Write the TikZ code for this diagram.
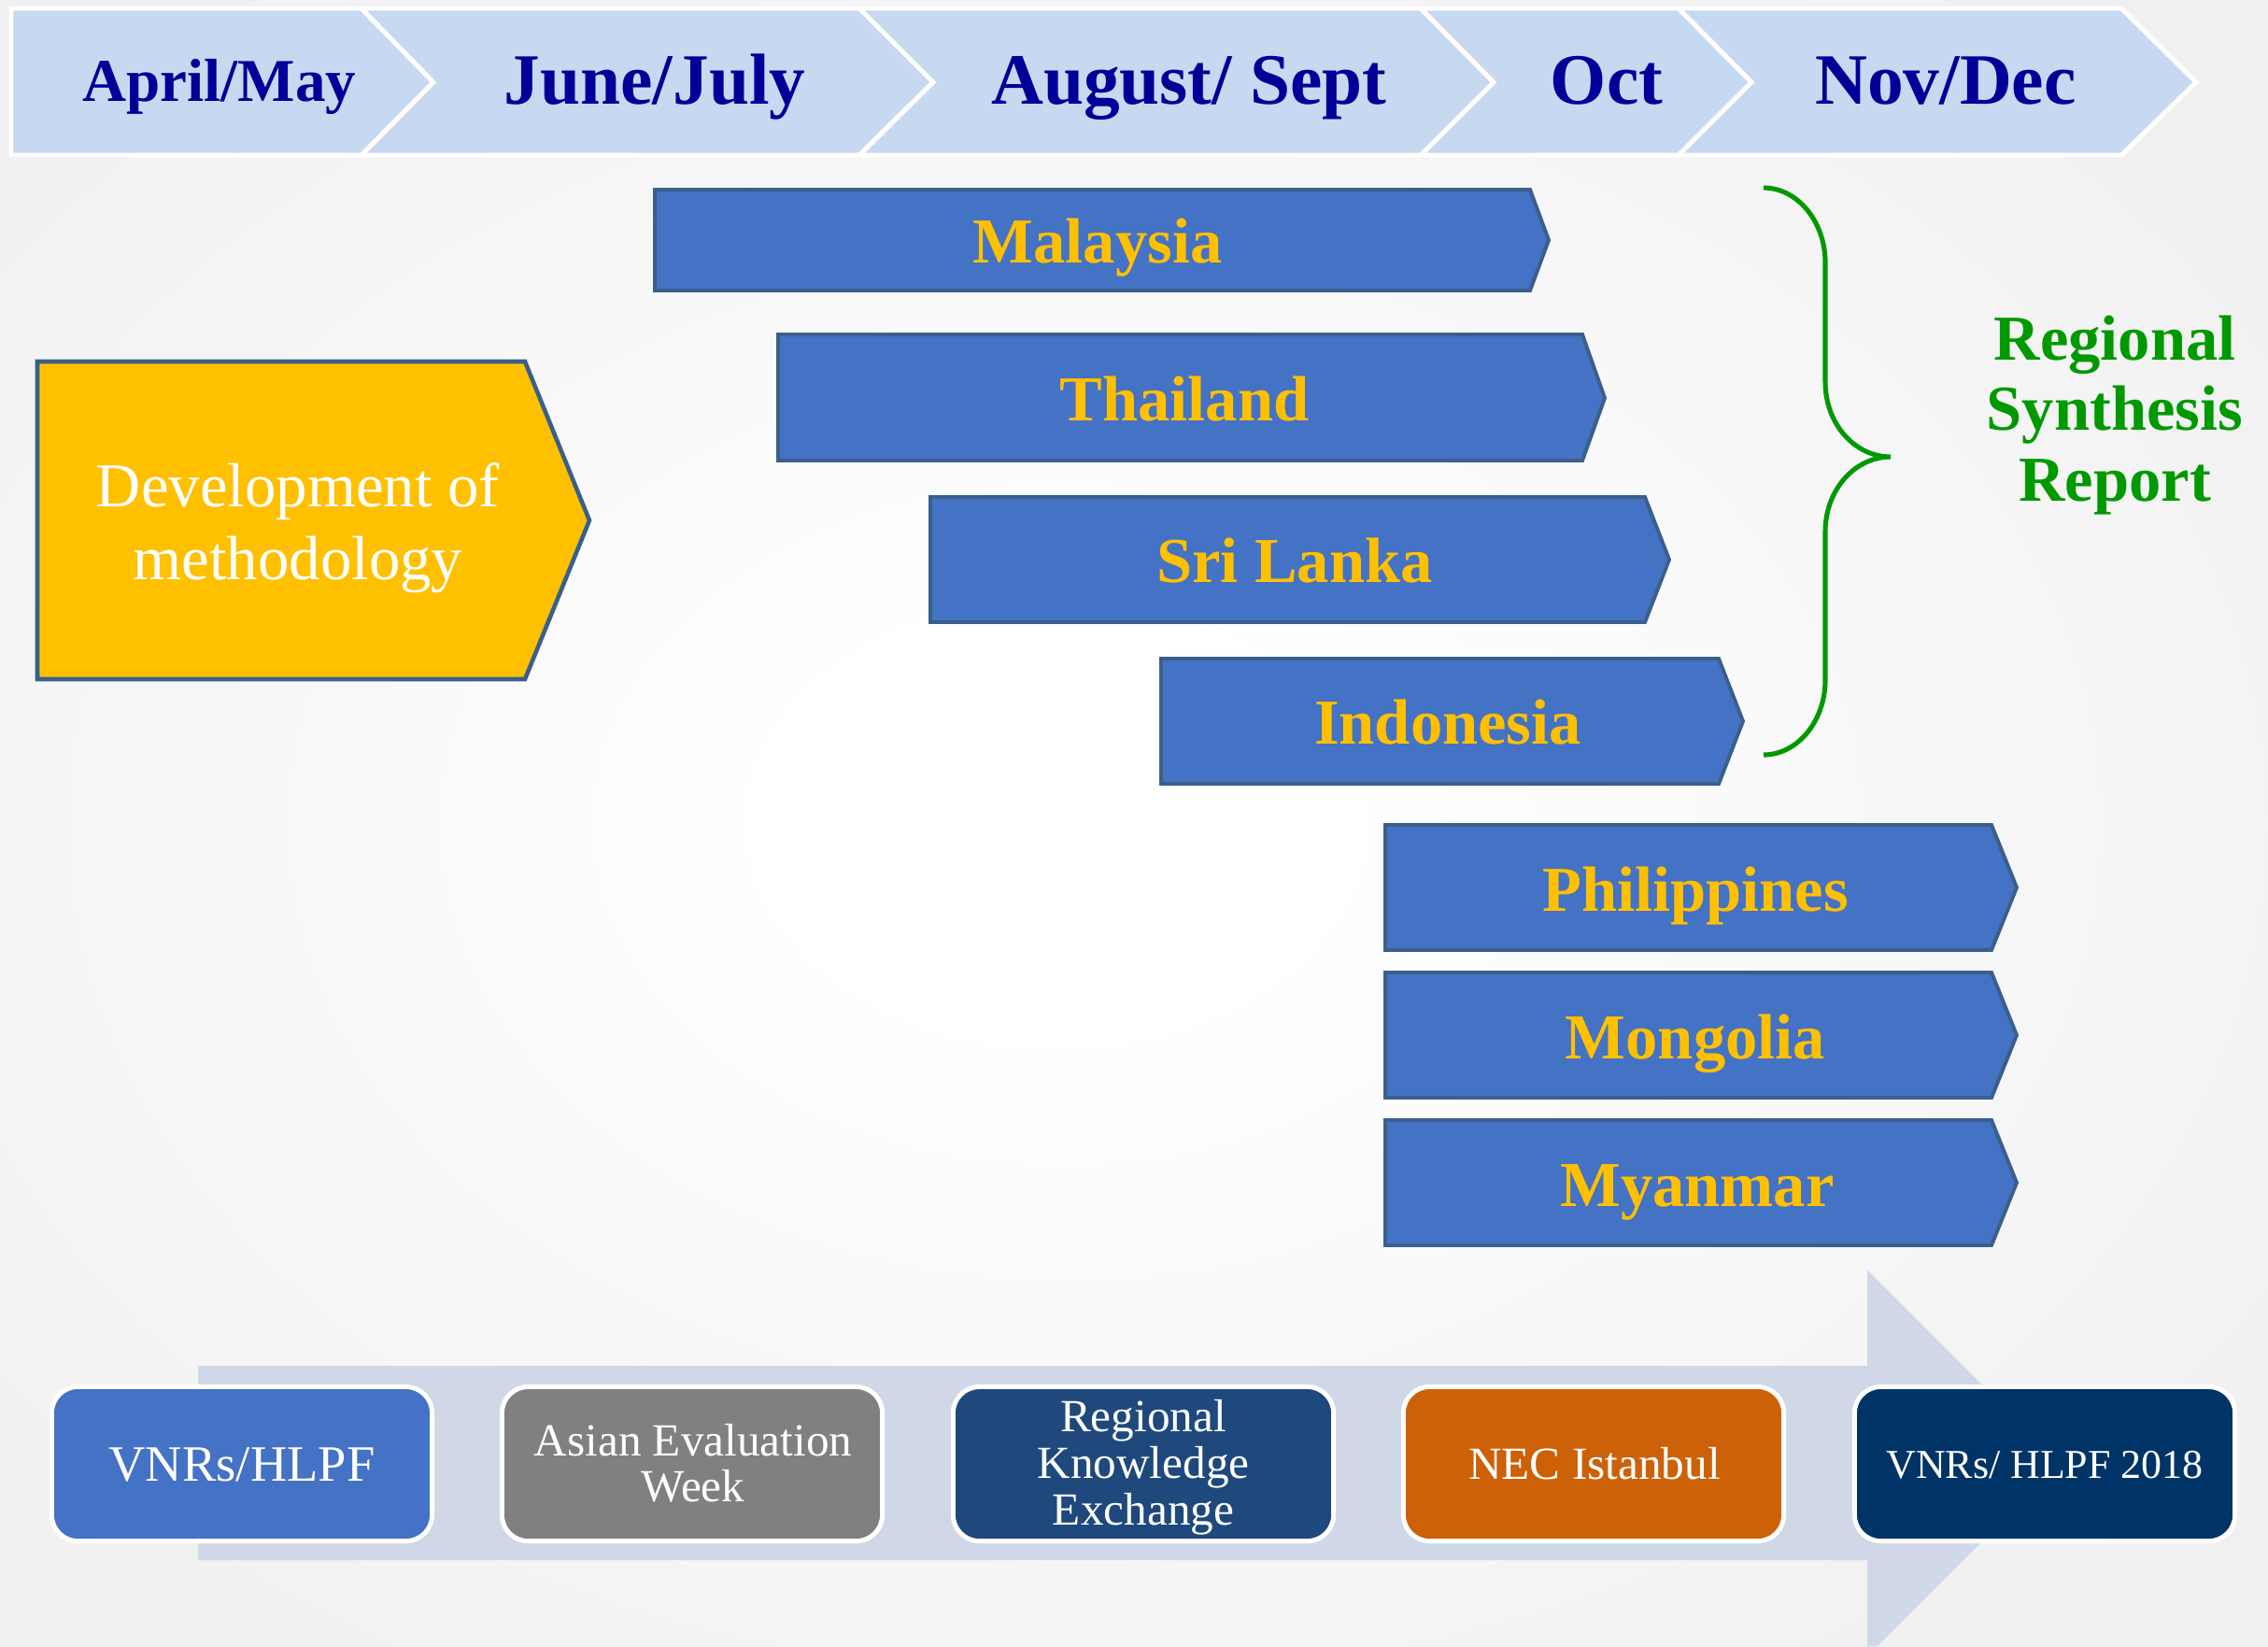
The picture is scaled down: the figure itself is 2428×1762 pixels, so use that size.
\documentclass[tikz,border=0pt]{standalone}
\usepackage{fontspec}
\setmainfont{Liberation Serif}
\definecolor{chev}{HTML}{C6D9F1}
\definecolor{navytxt}{HTML}{000099}
\definecolor{barblue}{HTML}{4472C4}
\definecolor{barline}{HTML}{3A5F8B}
\definecolor{gold}{HTML}{FFC000}
\definecolor{brgreen}{HTML}{009900}
\definecolor{arrowbg}{HTML}{D0D8E8}
\definecolor{boxA}{HTML}{4472C4}
\definecolor{boxB}{HTML}{808080}
\definecolor{boxC}{HTML}{1F497D}
\definecolor{boxD}{HTML}{CC6108}
\definecolor{boxE}{HTML}{003366}
\definecolor{bgedge}{HTML}{F0F0F0}
\pgfdeclareradialshading{bgshade}{\pgfpoint{-2bp}{0bp}}{color(0bp)=(white); color(6bp)=(white); color(32bp)=(bgedge); color(50bp)=(bgedge)}
\newcommand\stacklines[2]{\vtop{\baselineskip=#1\lineskiplimit=-30pt\lineskip=0pt\halign{\hfil##\hfil\cr#2\crcr}}}
\begin{document}
\begin{tikzpicture}[x=0.01cm,y=-0.01cm,
  chevstyle/.style={fill=chev,draw=white,line width=1.4pt,line join=miter},
  monthbig/.style={anchor=base,inner sep=0pt,text=navytxt,font=\fontsize{22}{24}\selectfont\bfseries},
  monthsmall/.style={anchor=base,inner sep=0pt,text=navytxt,font=\fontsize{18.5}{22}\selectfont\bfseries},
  barstyle/.style={fill=barblue,draw=barline,line width=1.1pt,line join=miter},
  bartxt/.style={anchor=base,inner sep=0pt,text=gold,font=\fontsize{19.5}{22}\selectfont\bfseries},
  devstyle/.style={fill=gold,draw=barline,line width=1.3pt,line join=miter},
  devtxt/.style={anchor=base,inner sep=0pt,text=white,font=\fontsize{19}{22}\selectfont},
  bracestyle/.style={draw=brgreen,line width=1.45pt},
  rsrtxt/.style={anchor=base,inner sep=0pt,text=brgreen,font=\fontsize{19.5}{22}\selectfont\bfseries},
  evbox/.style={draw=white,line width=1.4pt,rounded corners=0.28cm,minimum width=4.07cm,minimum height=1.65cm,inner sep=0pt},
  evtxt/.style={anchor=base,inner sep=0pt,text=white,font=\fontsize{14}{16}\selectfont}
]
\useasboundingbox (0,0) rectangle (2428,1762);
\shade[shading=bgshade] (0,0) rectangle (2428,1762);

% top timeline chevrons
\path[chevstyle] (12,9) -- (387,9) -- (464,88) -- (387,166) -- (12,166) -- cycle;
\path[chevstyle] (387,9) -- (920,9) -- (999,88) -- (920,166) -- (387,166) -- (464,88) -- cycle;
\path[chevstyle] (920,9) -- (1521,9) -- (1599,88) -- (1521,166) -- (920,166) -- (999,88) -- cycle;
\path[chevstyle] (1521,9) -- (1797,9) -- (1875,88) -- (1797,166) -- (1521,166) -- (1599,88) -- cycle;
\path[chevstyle] (1797,9) -- (2271,9) -- (2351,88) -- (2271,166) -- (1797,166) -- (1875,88) -- cycle;
\node[monthsmall] (m1) at (235,108) {April/May};
\node[monthbig] (m2) at (701,111) {June/July};
\node[monthbig] (m3) at (1273,111) {August/ Sept};
\node[monthbig] (m4) at (1720,111) {Oct};
\node[monthbig] (m5) at (2083,111) {Nov/Dec};

% development of methodology
\path[devstyle] (40,387) -- (562,387) -- (631,557) -- (562,727) -- (40,727) -- cycle;
\node[devtxt] (dev) at (319,542) {\stacklines{22.2pt}{Development of\cr methodology}};

% country bars
\path[barstyle] (701,203) -- (1638,203) -- (1658,257) -- (1638,311) -- (701,311) -- cycle;
\node[bartxt] (c1) at (1175,281) {Malaysia};
\path[barstyle] (833,358) -- (1694,358) -- (1718,426) -- (1694,493) -- (833,493) -- cycle;
\node[bartxt] (c2) at (1268,450) {Thailand};
\path[barstyle] (996,532) -- (1761,532) -- (1787,599) -- (1761,666) -- (996,666) -- cycle;
\node[bartxt] (c3) at (1386,623) {Sri Lanka};
\path[barstyle] (1243,705) -- (1840,705) -- (1866,772) -- (1840,839) -- (1243,839) -- cycle;
\node[bartxt] (c4) at (1550,796) {Indonesia};
\path[barstyle] (1483,883) -- (2132,883) -- (2159,950) -- (2132,1017) -- (1483,1017) -- cycle;
\node[bartxt] (c5) at (1815,975) {Philippines};
\path[barstyle] (1483,1041) -- (2132,1041) -- (2159,1108) -- (2132,1175) -- (1483,1175) -- cycle;
\node[bartxt] (c6) at (1815,1133) {Mongolia};
\path[barstyle] (1483,1199) -- (2132,1199) -- (2159,1266) -- (2132,1333) -- (1483,1333) -- cycle;
\node[bartxt] (c7) at (1817,1291) {Myanmar};

% brace and regional synthesis report
\path[bracestyle] (1888,201) .. controls (1924,201) and (1954,237) .. (1954,281)
  -- (1954,409) .. controls (1954,453) and (1985,489) .. (2024,489)
  .. controls (1985,489) and (1954,525) .. (1954,569)
  -- (1954,728) .. controls (1954,772) and (1924,808) .. (1888,808);
\node[rsrtxt] (rsr) at (2264,385) {\stacklines{21.6pt}{Regional\cr Synthesis\cr Report}};

% bottom arrow
\fill[arrowbg] (212,1462) -- (1999,1462) -- (1999,1359) -- (2206,1566) -- (2010,1762) -- (1999,1762) -- (1999,1670) -- (212,1670) -- cycle;

% event boxes
\node[evbox,fill=boxA] (b1) at (259,1567) {};
\node[evbox,fill=boxB] (b2) at (741,1567) {};
\node[evbox,fill=boxC] (b3) at (1224,1567) {};
\node[evbox,fill=boxD] (b4) at (1706,1567) {};
\node[evbox,fill=boxE] (b5) at (2189,1567) {};
\node[evtxt,font=\fontsize{15.5}{18}\selectfont] (t1) at (259,1585) {VNRs/HLPF};
\node[evtxt] (t2) at (742,1558) {\stacklines{14.2pt}{Asian Evaluation\cr Week}};
\node[evtxt] (t3) at (1224,1532) {\stacklines{14.3pt}{Regional\cr Knowledge\cr Exchange}};
\node[evtxt] (t4) at (1707,1583) {NEC Istanbul};
\node[evtxt,font=\fontsize{12.5}{15}\selectfont] (t5) at (2189,1582) {VNRs/ HLPF 2018};
\end{tikzpicture}
\end{document}
